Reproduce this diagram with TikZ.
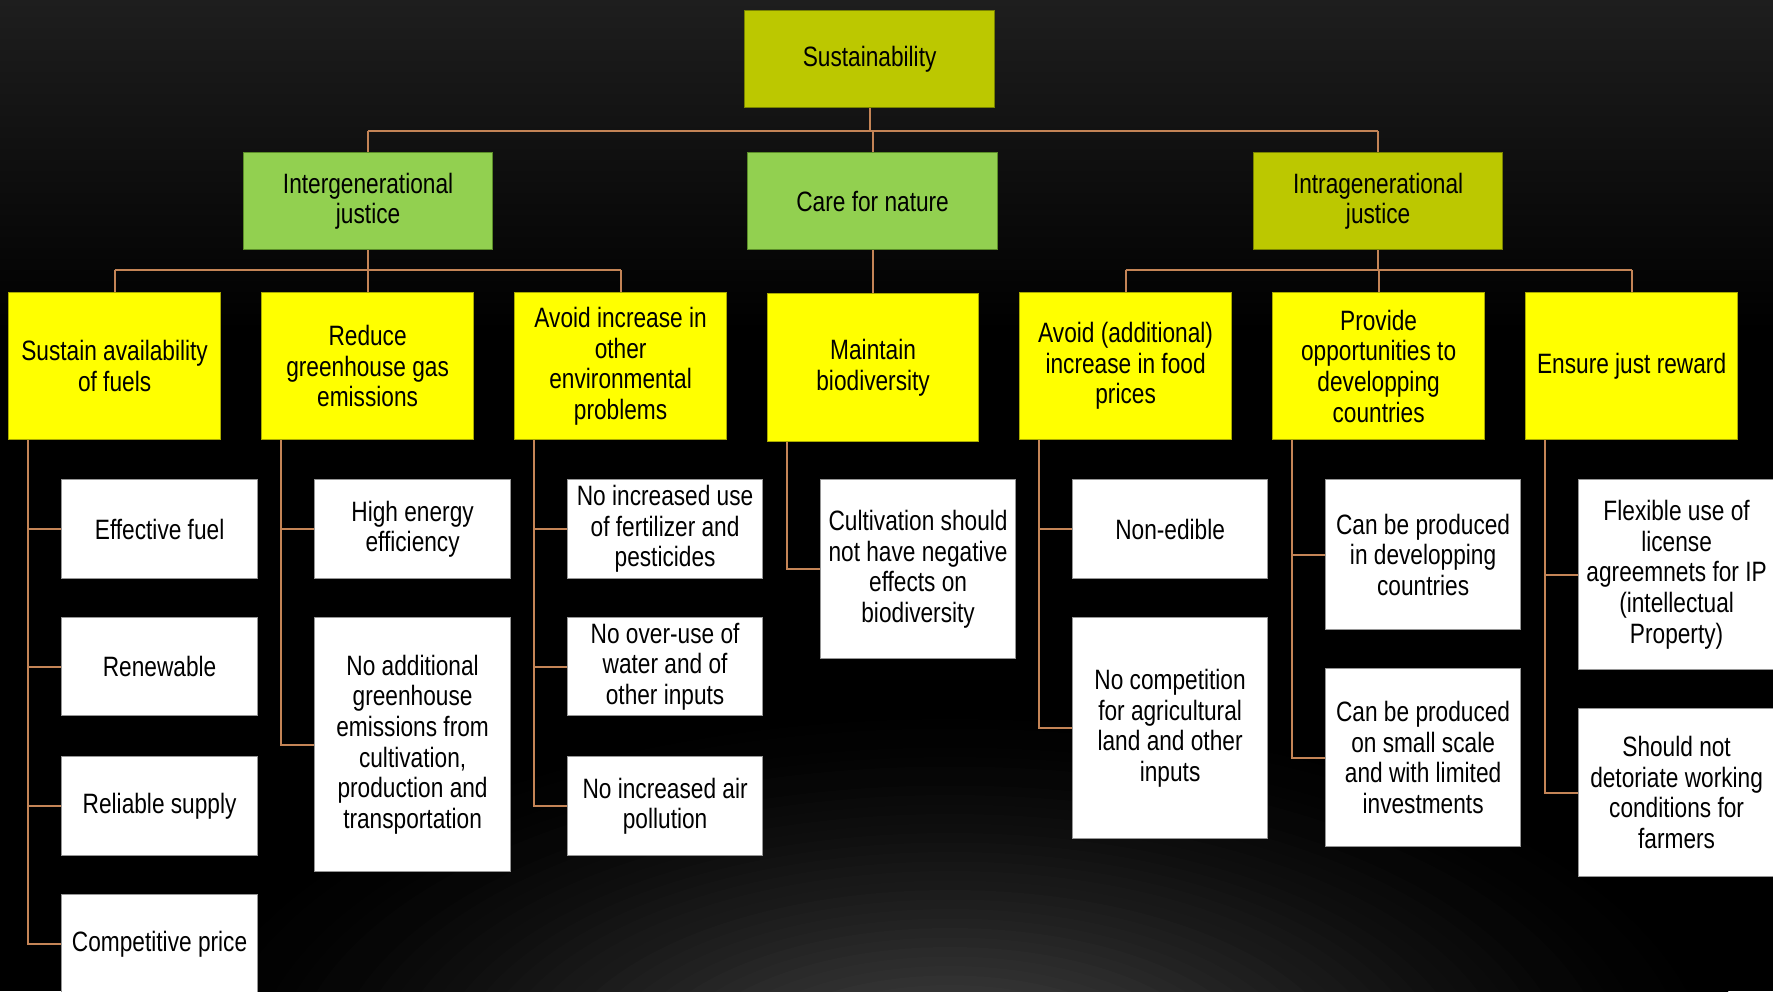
\documentclass[tikz,border=0pt]{standalone}
\usepackage{fontspec}
\setmainfont[FakeStretch=0.81]{Liberation Sans}
\definecolor{olivef}{RGB}{188,200,0}
\definecolor{oliveb}{RGB}{120,130,0}
\definecolor{greenf}{RGB}{146,208,80}
\definecolor{greenb}{RGB}{90,140,40}
\definecolor{yellowf}{RGB}{255,255,0}
\definecolor{yellowb}{RGB}{170,170,0}
\definecolor{grayb}{RGB}{150,150,150}
\definecolor{connc}{RGB}{196,132,86}
\definecolor{topgray}{RGB}{30,30,30}
\definecolor{glowc}{RGB}{80,80,80}
\begin{document}
\begin{tikzpicture}[x=0.5pt,y=-0.5pt,
  wh/.style 2 args={minimum width=#1*0.5pt, minimum height=#2*0.5pt},
  boxbase/.style={draw, line width=0.6pt, inner sep=0pt, align=center, anchor=north west, text=black, font=\fontsize{14}{15.3}\selectfont},
  rootbox/.style={boxbase, fill=olivef, draw=oliveb},
  greenbox/.style={boxbase, fill=greenf, draw=greenb},
  goalbox/.style={boxbase, fill=yellowf, draw=yellowb},
  critbox/.style={boxbase, fill=white, draw=grayb},
  conn/.style={draw=connc, line width=1.1pt},
]
\useasboundingbox (0,0) rectangle (1773,991);
% background
\fill[black] (0,0) rectangle (1773,991);
\shade[top color=topgray, bottom color=black] (0,0) rectangle (1773,330);
\begin{scope}
\clip (0,0) rectangle (1773,991);
\foreach \i in {40,39,...,1} {
  \pgfmathtruncatemacro\p{100*(1-\i/40)*sqrt(1-\i/40)}
  \fill[glowc!\p!black] (950,1080) ellipse [x radius=20*\i, y radius=9.5*\i];
}
\end{scope}

% level 1 and 2
\node[rootbox, wh={250}{97}] (root) at (744,10) {Sustainability};
\node[greenbox, wh={249}{97}] (mid1) at (243,152) {Intergenerational\\justice};
\node[greenbox, wh={250}{97}] (mid2) at (747,152) {Care for nature};
\node[rootbox, wh={249}{97}] (mid3) at (1253,152) {Intragenerational\\justice};

% level 3
\node[goalbox, wh={212}{147}] (g1) at (8,292) {Sustain availability\\of fuels};
\node[goalbox, wh={212}{147}] (g2) at (261,292) {Reduce\\greenhouse gas\\emissions};
\node[goalbox, wh={212}{147}] (g3) at (514,292) {Avoid increase in\\other\\environmental\\problems};
\node[goalbox, wh={211}{148}] (g4) at (767,293) {Maintain\\biodiversity};
\node[goalbox, wh={212}{147}] (g5) at (1019,292) {Avoid (additional)\\increase in food\\prices};
\node[goalbox, wh={212}{147}] (g6) at (1272,292) {Provide\\opportunities to\\developping\\countries};
\node[goalbox, wh={212}{147}] (g7) at (1525,292) {Ensure just reward};

% level 4
\node[critbox, wh={196}{99}] (c11) at (61,479) {Effective fuel};
\node[critbox, wh={196}{98}] (c12) at (61,617) {Renewable};
\node[critbox, wh={196}{99}] (c13) at (61,756) {Reliable supply};
\node[critbox, wh={196}{99}] (c14) at (61,894) {Competitive price};

\node[critbox, wh={196}{99}] (c21) at (314,479) {High energy\\efficiency};
\node[critbox, wh={196}{254}] (c22) at (314,617) {No additional\\greenhouse\\emissions from\\cultivation,\\production and\\transportation};

\node[critbox, wh={195}{99}] (c31) at (567,479) {No increased use\\of fertilizer and\\pesticides};
\node[critbox, wh={195}{98}] (c32) at (567,617) {No over-use of\\water and of\\other inputs};
\node[critbox, wh={195}{99}] (c33) at (567,756) {No increased air\\pollution};

\node[critbox, wh={195}{179}] (c41) at (820,479) {Cultivation should\\not have negative\\effects on\\biodiversity};

\node[critbox, wh={195}{99}] (c51) at (1072,479) {Non-edible};
\node[critbox, wh={195}{221}] (c52) at (1072,617) {No competition\\for agricultural\\land and other\\inputs};

\node[critbox, wh={195}{150}] (c61) at (1325,479) {Can be produced\\in developping\\countries};
\node[critbox, wh={195}{178}] (c62) at (1325,668) {Can be produced\\on small scale\\and with limited\\investments};

\node[critbox, wh={196}{190}] (c71) at (1578,479) {Flexible use of\\license\\agreemnets for IP\\(intellectual\\Property)};
\node[critbox, wh={196}{168}] (c72) at (1578,708) {Should not\\detoriate working\\conditions for\\farmers};

% connectors level 1 -> 2
\coordinate (bus1) at (0,131);
\draw[conn] (root.south) -- (root.south |- bus1);
\draw[conn] (mid1.north |- bus1) -- (mid3.north |- bus1);
\draw[conn] (mid1.north |- bus1) -- (mid1.north);
\draw[conn] (mid2.north |- bus1) -- (mid2.north);
\draw[conn] (mid3.north |- bus1) -- (mid3.north);

% connectors level 2 -> 3
\coordinate (bus2) at (0,270);
\draw[conn] (mid1.south) -- (mid1.south |- bus2);
\draw[conn] (g1.north |- bus2) -- (g3.north |- bus2);
\draw[conn] (g1.north |- bus2) -- (g1.north);
\draw[conn] (g2.north |- bus2) -- (g2.north);
\draw[conn] (g3.north |- bus2) -- (g3.north);
\draw[conn] (mid2.south) -- (mid2.south |- g4.north);
\draw[conn] (mid3.south) -- (mid3.south |- bus2);
\draw[conn] (g5.north |- bus2) -- (g7.north |- bus2);
\draw[conn] (g5.north |- bus2) -- (g5.north);
\draw[conn] (g6.north |- bus2) -- (g6.north);
\draw[conn] (g7.north |- bus2) -- (g7.north);

% connectors level 3 -> 4
\foreach \g/\c in {g1/c11,g1/c12,g1/c13,g1/c14,g2/c21,g2/c22,g3/c31,g3/c32,g3/c33,g4/c41,g5/c51,g5/c52,g6/c61,g6/c62,g7/c71,g7/c72}
  \draw[conn] ([xshift=10pt]\g.south west) |- (\c.west);
\end{tikzpicture}
\end{document}
